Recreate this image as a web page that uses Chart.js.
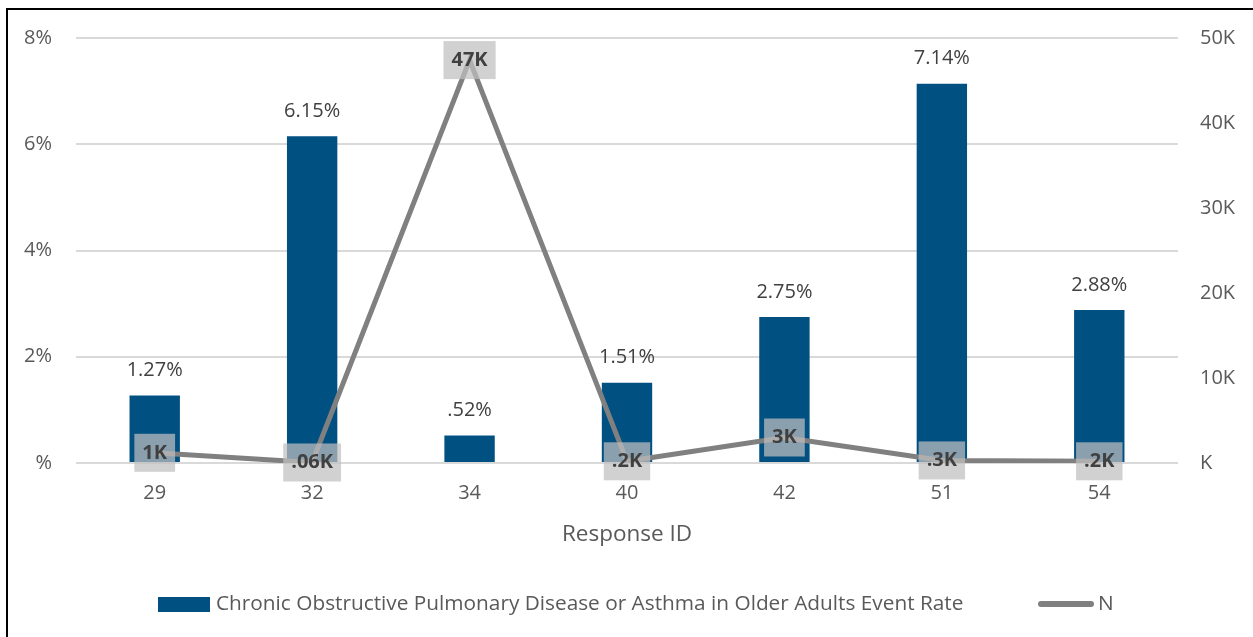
<!DOCTYPE html>
<html>
<head>
<meta charset="utf-8">
<script src="https://cdn.jsdelivr.net/npm/chart.js@4.4.0/dist/chart.umd.min.js"></script>
<style>
  html, body { margin: 0; padding: 0; background: #fff; }
  #wrap { position: relative; width: 1253px; height: 637px; overflow: hidden; }
  #frame { position: absolute; left: 6px; top: 8px; right: -10px; bottom: -10px;
           border-left: 2px solid #000; border-top: 2px solid #000; }
  canvas { position: absolute; left: 0; top: 0; }
</style>
</head>
<body>
<div id="wrap">
  <div id="frame"></div>
  <canvas id="chart" width="1253" height="637"></canvas>
</div>
<script>
const responseIds = ['29', '32', '34', '40', '42', '51', '54'];
const eventRates = [1.27, 6.15, 0.52, 1.51, 2.75, 7.14, 2.88];
const nValues = [1200, 60, 47400, 200, 3000, 300, 200];
const seriesNames = ['Chronic Obstructive Pulmonary Disease or Asthma in Older Adults Event Rate', 'N'];

const barColor = '#005182';
const lineColor = '#808080';
const textColor = '#595959';

Chart.defaults.font.family = '"Open Sans", sans-serif';
Chart.defaults.color = textColor;

function dropZero(s) {
  return s.replace(/^0\./, '.');
}
function rateLabel(v) {
  return dropZero(v.toFixed(2)) + '%';
}
function nLabel(v) {
  const k = v / 1000;
  const s = k >= 1 ? String(Math.round(k)) : dropZero(String(+k.toFixed(2)));
  return s + 'K';
}

// data labels (no datalabels plugin offline, so draw them here)
const labelPlugin = {
  id: 'valueLabels',
  afterDatasetsDraw(chart) {
    const ctx = chart.ctx;
    ctx.save();
    ctx.textAlign = 'center';
    ctx.textBaseline = 'middle';

    ctx.font = '20px "Open Sans"';
    ctx.fillStyle = '#404040';
    chart.getDatasetMeta(0).data.forEach((b, i) => {
      ctx.fillText(rateLabel(eventRates[i]), b.x, b.y - 25);
    });

    ctx.font = 'bold 20px "Open Sans"';
    chart.getDatasetMeta(1).data.forEach((p, i) => {
      const t = nLabel(nValues[i]);
      const w = ctx.measureText(t).width + 16;
      const h = 38;
      ctx.fillStyle = 'rgba(191,191,191,0.72)';
      ctx.fillRect(p.x - w / 2, p.y - h / 2, w, h);
      ctx.fillStyle = '#404040';
      ctx.fillText(t, p.x, p.y);
    });
    ctx.restore();
  }
};

const legendPlugin = {
  id: 'bottomLegend',
  afterDraw(chart) {
    const ctx = chart.ctx;
    const y = 604;
    ctx.save();
    ctx.fillStyle = barColor;
    ctx.fillRect(158, 597, 52, 15);
    ctx.font = '20.8px "Open Sans"';
    ctx.fillStyle = textColor;
    ctx.textAlign = 'left';
    ctx.textBaseline = 'middle';
    ctx.fillText(seriesNames[0], 216, y);

    ctx.strokeStyle = lineColor;
    ctx.lineWidth = 6;
    ctx.lineCap = 'round';
    ctx.beginPath();
    ctx.moveTo(1041, y);
    ctx.lineTo(1091, y);
    ctx.stroke();
    ctx.fillText(seriesNames[1], 1098, y);
    ctx.restore();
  }
};

new Chart(document.getElementById('chart').getContext('2d'), {
  type: 'bar',
  data: {
    labels: responseIds,
    datasets: [{
      type: 'bar',
      label: seriesNames[0],
      data: eventRates,
      backgroundColor: barColor,
      yAxisID: 'y',
      barPercentage: 0.32,
      categoryPercentage: 1,
      order: 1
    }, {
      type: 'line',
      label: seriesNames[1],
      data: nValues,
      borderColor: lineColor,
      borderWidth: 5,
      pointRadius: 0,
      tension: 0,
      yAxisID: 'y1',
      order: 0
    }]
  },
  options: {
    responsive: false,
    animation: false,
    layout: { padding: { top: 38, left: 0, right: 0, bottom: 0 } },
    plugins: {
      legend: { display: false },
      tooltip: { enabled: false }
    },
    scales: {
      x: {
        offset: true,
        grid: { display: false, drawTicks: false },
        border: { display: false },
        ticks: { font: { size: 20 }, padding: 18 },
        title: {
          display: true,
          text: 'Response ID',
          font: { size: 22.5 },
          padding: { top: 0, bottom: 89 }
        },
        afterFit(s) { s.height = 174; }
      },
      y: {
        position: 'left',
        min: 0,
        max: 8,
        ticks: {
          stepSize: 2,
          padding: 24,
          font: { size: 20 },
          callback: v => v === 0 ? '%' : v + '%'
        },
        grid: { color: '#d9d9d9', lineWidth: 2, drawTicks: false },
        border: { display: false },
        afterFit(s) { s.width = 76; }
      },
      y1: {
        position: 'right',
        min: 0,
        max: 50000,
        ticks: {
          stepSize: 10000,
          padding: 22,
          font: { size: 20 },
          callback: v => v === 0 ? 'K' : (v / 1000) + 'K'
        },
        grid: { display: false, drawTicks: false },
        border: { display: false },
        afterFit(s) { s.width = 75; }
      }
    }
  },
  plugins: [labelPlugin, legendPlugin]
});
</script>
</body>
</html>
